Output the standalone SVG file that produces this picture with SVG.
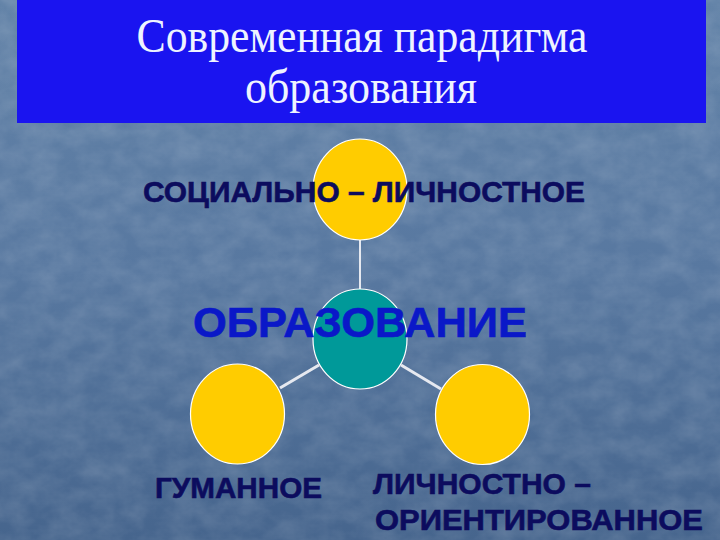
<svg xmlns="http://www.w3.org/2000/svg" width="720" height="540" viewBox="0 0 720 540">
  <defs>
    <linearGradient id="bg" x1="0" y1="0" x2="0" y2="1">
      <stop offset="0" stop-color="#6383a8"/>
      <stop offset="0.5" stop-color="#5878a0"/>
      <stop offset="1" stop-color="#46658d"/>
    </linearGradient>
    <filter id="tex" x="0" y="0" width="100%" height="100%">
      <feTurbulence type="fractalNoise" baseFrequency="0.035 0.05" numOctaves="4" seed="7"/>
      <feColorMatrix type="matrix" values="0 0 0 0 1  0 0 0 0 1  0 0 0 0 1  0 0 0 0.45 -0.12"/>
    </filter>
    <style>
      .title { font-family: "Liberation Serif", "Times New Roman", serif; font-size: 48px; fill: #eef3ff; text-anchor: middle; }
      .label { font-family: "Liberation Sans", Arial, sans-serif; font-weight: bold; font-size: 30px; fill: #0c0c5e; stroke: #0c0c5e; stroke-width: 0.6; }
      .main { font-family: "Liberation Sans", Arial, sans-serif; font-weight: bold; font-size: 42px; fill: #0a18c8; stroke: #0a18c8; stroke-width: 0.6; text-anchor: middle; }
      .yellow { fill: #ffcc00; stroke: #ffffff; stroke-width: 1.2; }
      .teal { fill: #009999; stroke: #ffffff; stroke-width: 1.2; }
      .conn { stroke: #e6e9f0; stroke-linecap: butt; fill: none; }
    </style>
  </defs>

  <rect x="0" y="0" width="720" height="540" fill="url(#bg)"/>
  <rect x="0" y="0" width="720" height="540" filter="url(#tex)" opacity="0.45"/>

  <g id="title">
    <rect x="17" y="0" width="689" height="123" fill="#1a14f0"/>
    <text class="title" x="362" y="52" textLength="451" lengthAdjust="spacingAndGlyphs">Современная парадигма</text>
    <text class="title" x="361" y="103" textLength="232" lengthAdjust="spacingAndGlyphs">образования</text>
  </g>

  <g id="connectors">
    <line class="conn" x1="360" y1="240" x2="360" y2="289" stroke-width="2"/>
    <line class="conn" x1="319" y1="365" x2="280" y2="388" stroke-width="3"/>
    <line class="conn" x1="401" y1="365" x2="441" y2="389" stroke-width="3"/>
  </g>

  <g id="node-social">
    <ellipse class="yellow" cx="360" cy="189.5" rx="47" ry="50.5"/>
    <text class="label" x="143" y="202" textLength="442" lengthAdjust="spacingAndGlyphs">СОЦИАЛЬНО – ЛИЧНОСТНОЕ</text>
  </g>

  <g id="node-center">
    <ellipse class="teal" cx="360" cy="339" rx="47" ry="50"/>
    <text class="main" x="360" y="337" textLength="334" lengthAdjust="spacingAndGlyphs">ОБРАЗОВАНИЕ</text>
  </g>

  <g id="node-humane">
    <ellipse class="yellow" cx="237.5" cy="414" rx="47" ry="50"/>
    <text class="label" x="155" y="498" textLength="167" lengthAdjust="spacingAndGlyphs">ГУМАННОЕ</text>
  </g>

  <g id="node-personal">
    <ellipse class="yellow" cx="482.5" cy="414.5" rx="47" ry="50"/>
    <text class="label" x="373" y="494">ЛИЧНОСТНО –</text>
    <text class="label" x="375" y="530" textLength="328" lengthAdjust="spacingAndGlyphs">ОРИЕНТИРОВАННОЕ</text>
  </g>
</svg>
